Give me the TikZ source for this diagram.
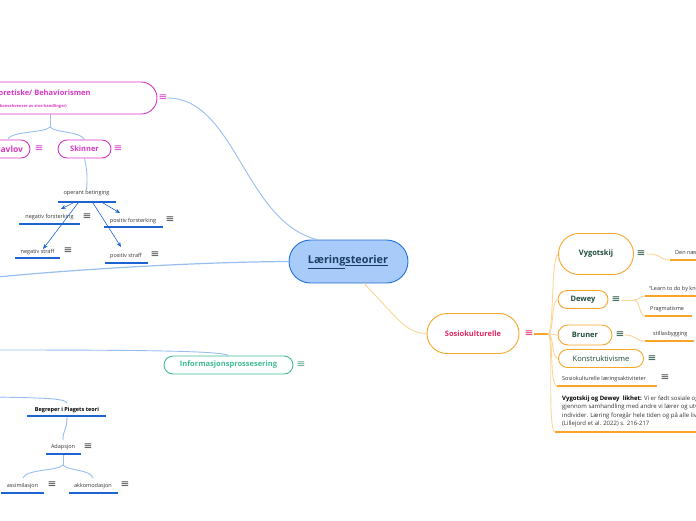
\documentclass[tikz,border=0pt]{standalone}
\usepackage{fontspec}
\setmainfont{Open Sans}
\newfontfamily\symfont{DejaVu Sans}
\usetikzlibrary{arrows.meta,shapes.misc}
\definecolor{cblue}{HTML}{1F6FD6}
\definecolor{lblue}{HTML}{A9CBF9}
\definecolor{linkblue}{HTML}{98BDEF}
\definecolor{ulblue}{HTML}{1B64D2}
\definecolor{mag}{HTML}{D838C3}
\definecolor{orng}{HTML}{F8A52A}
\definecolor{lorng}{HTML}{FDD597}
\definecolor{crim}{HTML}{E3275F}
\definecolor{dgreen}{HTML}{1E4D3C}
\definecolor{tealc}{HTML}{3EBD96}
\definecolor{txt}{HTML}{333333}
\definecolor{ic}{HTML}{444444}
\definecolor{navy}{HTML}{1B3D63}
\tikzset{
  pill/.style={rounded rectangle, draw, line width=0.9pt, fill=white, inner sep=0pt},
  leaf/.style={font=\fontsize{5.5}{6.6}\selectfont, text=txt, inner sep=0pt},
  icon/.style={font=\symfont\fontsize{10.5}{10.5}\selectfont, inner sep=0pt},
  link/.style={draw=linkblue, line width=0.9pt},
  olink/.style={draw=lorng, line width=0.9pt},
  uline/.style={draw=ulblue, line width=1.3pt},
  oline/.style={draw=orng, line width=1.4pt},
  arr/.style={draw=ulblue, line width=0.6pt, -{Stealth[length=5pt,width=4pt]}},
  bname/.style={font=\bfseries\fontsize{7.5}{8}\selectfont}
}
\begin{document}
\begin{tikzpicture}[x=1pt,y=-1pt]
\useasboundingbox (0,0) rectangle (696,520);
\clip (0,0) rectangle (696,520);

% ---------------- central
\node[pill, draw=cblue, fill=lblue, minimum width=119pt, minimum height=43pt] (central) at (348.5,261.5) {};
\node[font=\bfseries\fontsize{10.8}{12}\selectfont, text=navy, inner sep=0pt] (ctext) at (348,262) {\underline{Læring}\underline{steorier}};

% ---------------- behaviorism (top left)
\node[pill, draw=mag, minimum width=287pt, minimum height=32pt] (beh) at (13.5,98) {};
\node[bname, text=mag, anchor=west, inner sep=0pt] (behtext) at (-1.5,93) {oretiske/ Behaviorismen};
\node[font=\bfseries\fontsize{4}{4.5}\selectfont, text=mag, anchor=east, inner sep=0pt] (behsub) at (67,106) {konsekvenser av sine handlinger)};
\node[icon, text=mag] (behicon) at (163,98) {≡};

\node[pill, draw=mag, minimum width=70pt, minimum height=18pt] (pav) at (-5,149) {};
\node[font=\bfseries\fontsize{8.5}{9}\selectfont, text=mag, anchor=west, inner sep=0pt] (pavtext) at (-5,149) {Pavlov};
\node[icon, text=mag] (pavicon) at (39,149) {≡};
\node[pill, draw=mag, minimum width=53pt, minimum height=18pt, bname, text=mag] (skin) at (84.5,149) {Skinner};
\node[icon, text=mag] (skinicon) at (118,149) {≡};

\coordinate (behb) at (50,114);
\coordinate (behj) at (50,127);
\coordinate (pavt) at (8,139);
\draw[link] (behb) -- (behj);
\draw[link] (behj) .. controls (45,133) and (12,131) .. (pavt);
\draw[link] (behj) .. controls (55,133) and (80,131) .. (skin.north);

% operant
\node[leaf] (oper) at (86.5,193) {operant betinging};
\coordinate (operl) at (58,202); \coordinate (operr) at (116,202);
\draw[uline] (operl) -- (operr);
\draw[link] (skin.south) .. controls (86,166) and (88,172) .. (oper.north);

\node[leaf] (nf) at (49.5,217) {negativ forsterking};
\coordinate (nfl) at (19,224); \coordinate (nfr) at (80,224);
\draw[uline] (nfl) -- (nfr);
\node[icon, text=ic] (nficon) at (87,217) {≡};

\node[leaf] (pf) at (133,221) {positiv forsterking};
\coordinate (pfl) at (104,227); \coordinate (pfr) at (163,227);
\draw[uline] (pfl) -- (pfr);
\node[icon, text=ic] (pficon) at (170,220) {≡};

\node[leaf] (ns) at (37.5,252) {negativ straff};
\coordinate (nsl) at (15,258); \coordinate (nsr) at (60,258);
\draw[uline] (nsl) -- (nsr);
\node[icon, text=ic] (nsicon) at (68,251) {≡};

\node[leaf] (ps) at (126,256) {positiv straff};
\coordinate (psl) at (105,263); \coordinate (psr) at (148,263);
\draw[uline] (psl) -- (psr);
\node[icon, text=ic] (psicon) at (155,255) {≡};

\coordinate (a1) at (73,203); \coordinate (a2) at (78,203);
\coordinate (a3) at (103,203); \coordinate (a4) at (93,203);
\coordinate (t1) at (61,209); \coordinate (t2) at (43,249);
\coordinate (t3) at (120,213); \coordinate (t4) at (121,247);
\draw[arr] (a1) -- (t1);
\draw[arr] (a2) -- (t2);
\draw[arr] (a3) -- (t3);
\draw[arr] (a4) -- (t4);

\draw[link] (behicon.east) .. controls (235,98) and (245,222) .. (central.145);
\coordinate (lft1) at (-3,277);
\draw[link, line width=1.2pt] (central.west) .. controls (200,262) and (80,269) .. (lft1);

% ---------------- Informasjonsprossesering
\node[pill, draw=tealc, minimum width=129pt, minimum height=18pt, bname, text=tealc] (info) at (228.5,365) {Informasjonsprossesering};
\node[icon, text=tealc!60!gray] (infoicon) at (301,365) {≡};
\coordinate (lft2) at (-3,350);
\draw[link] (lft2) .. controls (150,350) and (222,351) .. (info.north);

% ---------------- Piaget
\node[leaf, font=\bfseries\fontsize{5.5}{6.6}\selectfont, text=black] (pia) at (67,410) {Begreper i Piagets teori};
\coordinate (pial) at (27,416); \coordinate (piar) at (106,416);
\draw[uline] (pial) -- (piar);
\coordinate (lft3) at (-3,397);
\coordinate (piat) at (67,403);
\draw[link] (lft3) .. controls (40,398) and (65,398) .. (piat);
\coordinate (piab) at (67,417);

\node[leaf] (ada) at (63,447) {Adapsjon};
\coordinate (adal) at (46,454); \coordinate (adar) at (81,454);
\draw[uline] (adal) -- (adar);
\node[icon, text=ic] (adaicon) at (88,447) {≡};
\coordinate (adat) at (63,440);
\draw[link] (piab) .. controls (67,430) and (63,430) .. (adat);

\coordinate (adab) at (63,455);
\coordinate (adaj) at (63,465);
\draw[link] (adab) -- (adaj);

\node[leaf] (ass) at (22.5,486) {assimilasjon};
\coordinate (assl) at (1,493); \coordinate (assr) at (44,493);
\draw[uline] (assl) -- (assr);
\node[icon, text=ic] (assicon) at (52,485) {≡};
\node[leaf] (akk) at (93,486) {akkomodasjon};
\coordinate (akkl) at (69,493); \coordinate (akkr) at (118,493);
\draw[uline] (akkl) -- (akkr);
\node[icon, text=ic] (akkicon) at (125,485) {≡};
\coordinate (asst) at (23,478); \coordinate (akkt) at (93,478);
\draw[link] (adaj) .. controls (58,471) and (26,469) .. (asst);
\draw[link] (adaj) .. controls (68,471) and (90,469) .. (akkt);

% ---------------- Sosiokulturelle
\node[pill, draw=orng, minimum width=92pt, minimum height=40pt, font=\bfseries\fontsize{7.5}{8}\selectfont, text=crim] (sos) at (473,333.5) {Sosiokulturelle};
\node[icon, text=crim] (sosicon) at (529,334) {≡};
\draw[olink] (central.-55) .. controls (398,318) and (405,333) .. (sos.west);
\coordinate (hub) at (548,334);
\draw[draw=orng, line width=1.2pt] (sosicon.east) -- (hub);

\node[pill, draw=orng, minimum width=75pt, minimum height=41pt, bname, text=dgreen] (vyg) at (596,254) {Vygotskij};
\node[icon, text=dgreen] (vygicon) at (641,254) {≡};
\node[pill, draw=orng, minimum width=50pt, minimum height=18pt, bname, text=dgreen] (dew) at (583,299.5) {Dewey};
\node[icon, text=dgreen] (dewicon) at (616,300) {≡};
\node[pill, draw=orng, minimum width=54pt, minimum height=20pt, bname, text=dgreen] (bru) at (585,335) {Bruner};
\node[icon, text=dgreen] (bruicon) at (620,335) {≡};
\node[pill, draw=orng, minimum width=85pt, minimum height=18pt, font=\fontsize{7.5}{8}\selectfont, text=dgreen] (kon) at (601,358.5) {Konstruktivisme};
\node[icon, text=dgreen] (konicon) at (652,359) {≡};

\node[leaf, anchor=west] (sla) at (562,379) {Sosiokulturelle læringsaktiviteter};
\coordinate (slal) at (557,386); \coordinate (slar) at (657,386);
\draw[oline] (slal) -- (slar);
\node[icon, text=ic] (slaicon) at (665,378) {≡};

\node[leaf, anchor=north west, align=left, font=\fontsize{6}{8.4}\selectfont] (par) at (562,395.5) {\textbf{\color{black}Vygotskij og Dewey \ likhet:} Vi er født sosiale og\\gjennom samhandling med andre vi lærer og utvikler oss\\individer. Læring foregår hele tiden og på alle livets arenaer\\(Lillejord et al. 2022) s. 216-217};
\coordinate (parl) at (555,432); \coordinate (parr) at (700,432);
\draw[oline] (parl) -- (parr);

\draw[olink] (hub) .. controls (554,334) and (551,256) .. (vyg.west);
\draw[olink] (hub) .. controls (554,334) and (551,301) .. (dew.west);
\draw[olink] (hub) .. controls (553,334) and (552,335) .. (bru.west);
\draw[olink] (hub) .. controls (554,334) and (551,357) .. (kon.west);
\draw[olink] (hub) .. controls (554,334) and (549,384) .. (slal);
\draw[olink] (hub) .. controls (554,334) and (547,430) .. (parl);

% Vygotskij leaf
\node[leaf, anchor=west] (den) at (675,253) {Den nærmeste utviklingssonen};
\coordinate (denl) at (670,260); \coordinate (denr) at (700,260);
\draw[oline] (denl) -- (denr);
\draw[olink] (vygicon.east) .. controls (660,253) and (660,260) .. (denl);

% Dewey leaves
\coordinate (dewh) at (634,300);
\draw[olink] (dewicon.east) -- (dewh);
\node[leaf, anchor=west] (lea) at (649,289) {“Learn to do by knowing and to know by doing”};
\coordinate (leal) at (645,296); \coordinate (lear) at (700,296);
\draw[oline] (leal) -- (lear);
\node[leaf, anchor=west] (pra) at (650,309) {Pragmatisme};
\coordinate (pral) at (645,316); \coordinate (prar) at (692,316);
\draw[oline] (pral) -- (prar);
\draw[olink] (dewh) .. controls (640,300) and (639,296) .. (leal);
\draw[olink] (dewh) .. controls (640,300) and (639,316) .. (pral);

% Bruner leaf
\node[leaf, anchor=west] (sti) at (653,334) {stillasbygging};
\coordinate (stil) at (645,341); \coordinate (stir) at (694,341);
\draw[oline] (stil) -- (stir);
\draw[olink] (bruicon.east) .. controls (636,335) and (636,341) .. (stil);
\end{tikzpicture}
\end{document}
